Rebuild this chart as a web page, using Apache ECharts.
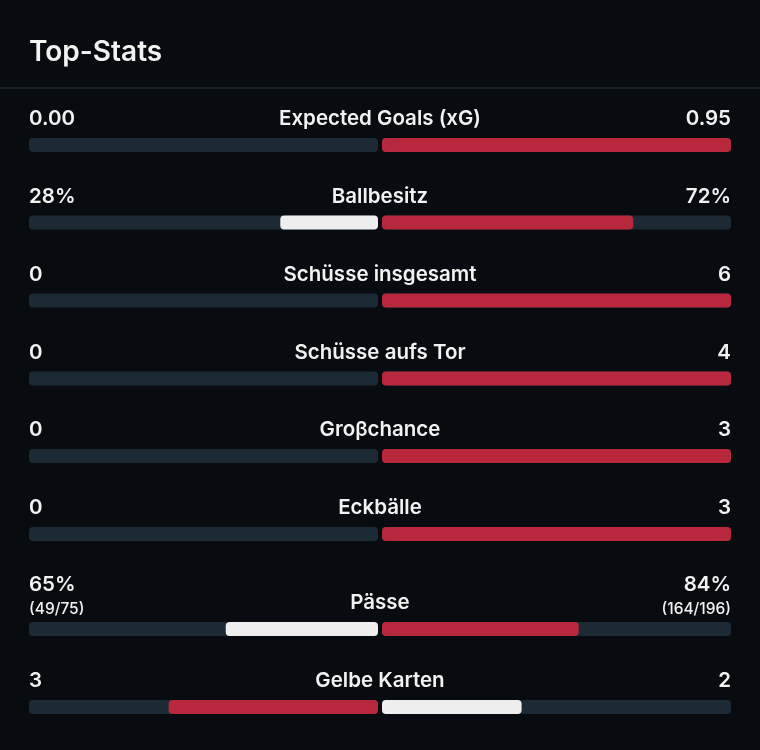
<!DOCTYPE html>
<html><head><meta charset="utf-8">
<script src="https://cdn.jsdelivr.net/npm/echarts@6/dist/echarts.min.js"></script>
<style>html,body{margin:0;padding:0;background:#080b10;}#c{width:760px;height:750px;}</style>
</head><body><div id="c"></div>
<script>
var categories = ['Expected Goals (xG)','Ballbesitz','Schüsse insgesamt','Schüsse aufs Tor','Groβchance','Eckbälle','Pässe','Gelbe Karten'];
var leftVals = [0.00, 28, 0, 0, 0, 0, 65, 3];
var rightVals = [0.95, 72, 6, 4, 3, 3, 84, 2];
var leftLabels = ['0.00','28%','0','0','0','0','65%','3'];
var rightLabels = ['0.95','72%','6','4','3','3','84%','2'];
var leftSub = ['','','','','','','(49/75)',''];
var rightSub = ['','','','','','','(164/196)',''];

var BG = '#080b10', TRACK = '#1c2a36', RED = '#b8283c', WHITE = '#eeeeee', TXT = '#f2f2f2';
var FONT = 'Inter, "Noto Sans", sans-serif';
var barTops = [138, 215.5, 293.5, 371.5, 449, 527, 622, 700];
var BAR_H = 14, LX = 29, HALF_W = 349, RX = 382, RR = 731;

var grids = [], xAxes = [], yAxes = [], series = [], graphics = [];
categories.forEach(function (cat, i) {
  var L = leftVals[i], R = rightVals[i], sum = L + R;
  var ls = sum ? L / sum : 0, rs = sum ? R / sum : 0;
  var lc = L > R ? RED : WHITE, rc = R > L ? RED : WHITE;
  [[LX, true, ls, lc], [RX, false, rs, rc]].forEach(function (s) {
    var gi = grids.length;
    grids.push({left: s[0], width: HALF_W, top: barTops[i], height: BAR_H});
    xAxes.push({type: 'value', gridIndex: gi, min: 0, max: 1, inverse: s[1], show: false});
    yAxes.push({type: 'category', gridIndex: gi, data: [cat], show: false});
    series.push({type: 'bar', xAxisIndex: gi, yAxisIndex: gi, barWidth: BAR_H,
      data: [s[2]], showBackground: true,
      backgroundStyle: {color: TRACK, borderRadius: 4},
      itemStyle: {color: s[3], borderRadius: 4}, silent: true, animation: false});
  });
  var t = barTops[i];
  var hasSub = leftSub[i] || rightSub[i];
  var valY = hasSub ? t - 37 : t - 19;
  function txt(x, y, s, font, align) {
    graphics.push({type: 'text', x: x, y: y, style: {text: s, fill: TXT, font: font, textAlign: align, textVerticalAlign: 'middle'}});
  }
  txt(LX, valY, leftLabels[i], '600 20.5px ' + FONT, 'left');
  txt(RR, valY, rightLabels[i], '600 20.5px ' + FONT, 'right');
  if (hasSub) {
    txt(LX, t - 13, leftSub[i], '500 15.5px ' + FONT, 'left');
    txt(RR, t - 13, rightSub[i], '500 15.5px ' + FONT, 'right');
  }
  txt(380, hasSub ? t - 19.5 : t - 19, cat, '600 20.5px ' + FONT, 'center');
});
graphics.push({type: 'rect', shape: {x: 0, y: 87, width: 760, height: 2}, style: {fill: '#18202a'}});

var chart = echarts.init(document.getElementById('c'));
chart.setOption({
  backgroundColor: BG,
  animation: false,
  title: {text: 'Top-Stats', left: 24, top: 34, textStyle: {color: TXT, fontSize: 28, fontWeight: 600, fontFamily: FONT}},
  grid: grids, xAxis: xAxes, yAxis: yAxes, series: series, graphic: graphics
});
</script></body></html>
